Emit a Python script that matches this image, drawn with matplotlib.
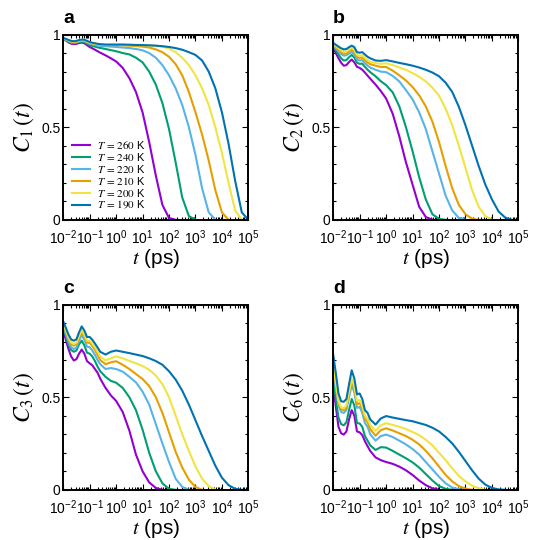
import numpy as np
import matplotlib.pyplot as plt
from matplotlib.ticker import LogLocator, FixedLocator, MultipleLocator, FuncFormatter

plt.rcParams['font.family'] = ['Liberation Sans', 'DejaVu Sans']
plt.rcParams['mathtext.fontset'] = 'stix'

# time grid (log10 of t in ps)
log_t = [-2.0, -1.9, -1.8, -1.7, -1.6, -1.5, -1.4, -1.3, -1.2, -1.1, -1.0, -0.9, -0.8, -0.7, -0.6,
         -0.4, -0.2, 0.0, 0.25, 0.5, 0.75, 1.0, 1.25, 1.5, 1.75, 2.0, 2.25, 2.5, 2.75, 3.0,
         3.25, 3.5, 3.75, 4.0, 4.25, 4.5, 4.75, 5.0]

temps = [260, 240, 220, 210, 200, 190]
colors = ['#9400D3', '#009E73', '#56B4E9', '#E69F00', '#F0E442', '#0072B2']

# panel a: C1(t)
c1_260 = [0.976, 0.968, 0.958, 0.951, 0.948, 0.950, 0.954, 0.957, 0.953, 0.943, 0.933, 0.926, 0.918, 0.910, 0.902, 0.888, 0.872,
          0.855, 0.820, 0.765, 0.690, 0.580, 0.420, 0.240, 0.080, 0.010, 0.0]
c1_240 = [0.977, 0.970, 0.962, 0.956, 0.953, 0.955, 0.959, 0.962, 0.959, 0.951, 0.944, 0.939, 0.935, 0.931, 0.928, 0.922, 0.916,
          0.910, 0.900, 0.893, 0.875, 0.850, 0.800, 0.730, 0.630, 0.490, 0.310, 0.120, 0.020, 0.0]
c1_220 = [0.978, 0.972, 0.965, 0.959, 0.957, 0.959, 0.963, 0.966, 0.964, 0.957, 0.951, 0.947, 0.944, 0.941, 0.939, 0.937, 0.935,
          0.933, 0.930, 0.927, 0.922, 0.915, 0.900, 0.875, 0.835, 0.780, 0.710, 0.620, 0.500, 0.350, 0.170, 0.040, 0.0]
c1_210 = [0.979, 0.973, 0.967, 0.961, 0.959, 0.961, 0.965, 0.968, 0.967, 0.961, 0.955, 0.951, 0.948, 0.946, 0.944, 0.943, 0.943,
          0.943, 0.942, 0.940, 0.938, 0.935, 0.930, 0.920, 0.905, 0.880, 0.840, 0.780, 0.690, 0.580, 0.460, 0.320, 0.160, 0.040, 0.0]
c1_200 = [0.980, 0.975, 0.969, 0.963, 0.961, 0.963, 0.967, 0.970, 0.969, 0.963, 0.957, 0.953, 0.950, 0.948, 0.946, 0.945, 0.945,
          0.945, 0.945, 0.944, 0.943, 0.942, 0.941, 0.940, 0.935, 0.925, 0.905, 0.875, 0.835, 0.780, 0.710, 0.620, 0.500, 0.360,
          0.200, 0.050, 0.0]
c1_190 = [0.982, 0.977, 0.971, 0.966, 0.964, 0.966, 0.970, 0.973, 0.972, 0.966, 0.960, 0.956, 0.953, 0.950, 0.948, 0.946, 0.946,
          0.946, 0.946, 0.945, 0.944, 0.943, 0.942, 0.940, 0.937, 0.933, 0.927, 0.918, 0.905, 0.890, 0.860, 0.800, 0.710, 0.580,
          0.410, 0.210, 0.040, 0.0]

# panel b: C2(t)
c2_260 = [0.928, 0.900, 0.872, 0.848, 0.832, 0.835, 0.852, 0.865, 0.850, 0.826, 0.820, 0.810, 0.795, 0.778, 0.762, 0.730, 0.695,
          0.655, 0.572, 0.450, 0.310, 0.190, 0.070, 0.015, 0.0]
c2_240 = [0.937, 0.915, 0.893, 0.872, 0.860, 0.862, 0.878, 0.890, 0.876, 0.848, 0.842, 0.843, 0.826, 0.810, 0.797, 0.775, 0.748,
          0.727, 0.688, 0.612, 0.500, 0.370, 0.230, 0.110, 0.030, 0.005, 0.0]
c2_220 = [0.940, 0.925, 0.910, 0.895, 0.886, 0.888, 0.898, 0.905, 0.893, 0.865, 0.860, 0.862, 0.846, 0.832, 0.822, 0.810, 0.800,
          0.797, 0.777, 0.747, 0.700, 0.650, 0.580, 0.490, 0.370, 0.250, 0.130, 0.050, 0.010, 0.0]
c2_210 = [0.945, 0.932, 0.918, 0.905, 0.896, 0.898, 0.910, 0.918, 0.906, 0.878, 0.874, 0.876, 0.862, 0.849, 0.840, 0.832, 0.825,
          0.825, 0.805, 0.780, 0.752, 0.717, 0.672, 0.612, 0.530, 0.420, 0.290, 0.170, 0.080, 0.030, 0.005, 0.0]
c2_200 = [0.950, 0.938, 0.926, 0.914, 0.906, 0.908, 0.920, 0.928, 0.918, 0.890, 0.886, 0.888, 0.874, 0.862, 0.853, 0.846, 0.842,
          0.845, 0.835, 0.822, 0.810, 0.792, 0.772, 0.747, 0.713, 0.670, 0.600, 0.510, 0.400, 0.280, 0.160, 0.070, 0.020, 0.0]
c2_190 = [0.955, 0.945, 0.935, 0.926, 0.920, 0.922, 0.932, 0.940, 0.932, 0.905, 0.902, 0.905, 0.892, 0.880, 0.872, 0.860, 0.858,
          0.862, 0.855, 0.847, 0.840, 0.832, 0.822, 0.810, 0.795, 0.775, 0.740, 0.690, 0.610, 0.510, 0.400, 0.290, 0.190, 0.110,
          0.045, 0.012, 0.0]

# panel c: C3(t)
c3_260 = [0.860, 0.810, 0.760, 0.720, 0.698, 0.705, 0.735, 0.757, 0.735, 0.695, 0.683, 0.672, 0.652, 0.632, 0.600, 0.550, 0.510,
          0.480, 0.420, 0.320, 0.190, 0.100, 0.040, 0.010, 0.0]
c3_240 = [0.875, 0.830, 0.785, 0.755, 0.745, 0.752, 0.785, 0.805, 0.780, 0.740, 0.735, 0.720, 0.695, 0.665, 0.640, 0.610, 0.588,
          0.578, 0.550, 0.500, 0.430, 0.325, 0.200, 0.100, 0.035, 0.005, 0.0]
c3_220 = [0.885, 0.843, 0.800, 0.770, 0.760, 0.767, 0.805, 0.835, 0.810, 0.773, 0.770, 0.752, 0.728, 0.700, 0.678, 0.652, 0.657,
          0.652, 0.638, 0.610, 0.580, 0.530, 0.460, 0.355, 0.250, 0.150, 0.060, 0.015, 0.0]
c3_210 = [0.895, 0.855, 0.815, 0.786, 0.778, 0.785, 0.822, 0.853, 0.830, 0.795, 0.793, 0.777, 0.755, 0.728, 0.700, 0.678, 0.688,
          0.694, 0.675, 0.652, 0.625, 0.598, 0.560, 0.500, 0.415, 0.310, 0.205, 0.120, 0.055, 0.015, 0.0]
c3_200 = [0.900, 0.862, 0.823, 0.795, 0.787, 0.794, 0.832, 0.863, 0.840, 0.805, 0.805, 0.790, 0.770, 0.745, 0.720, 0.698, 0.710,
          0.720, 0.710, 0.696, 0.683, 0.668, 0.648, 0.617, 0.570, 0.500, 0.400, 0.300, 0.210, 0.125, 0.060, 0.020, 0.0]
c3_190 = [0.910, 0.875, 0.838, 0.812, 0.805, 0.812, 0.850, 0.882, 0.860, 0.825, 0.825, 0.810, 0.790, 0.768, 0.745, 0.730, 0.745,
          0.752, 0.745, 0.738, 0.730, 0.722, 0.710, 0.695, 0.675, 0.640, 0.595, 0.535, 0.460, 0.375, 0.290, 0.210, 0.130, 0.065,
          0.025, 0.005, 0.0]

# panel d: C6(t)
c6_260 = [0.567, 0.450, 0.340, 0.305, 0.298, 0.315, 0.380, 0.430, 0.400, 0.315, 0.310, 0.295, 0.262, 0.235, 0.210, 0.175, 0.160,
          0.150, 0.140, 0.125, 0.105, 0.080, 0.050, 0.025, 0.008, 0.0]
c6_240 = [0.595, 0.490, 0.390, 0.355, 0.348, 0.365, 0.430, 0.490, 0.455, 0.360, 0.358, 0.340, 0.290, 0.265, 0.240, 0.215, 0.230,
          0.228, 0.210, 0.190, 0.170, 0.148, 0.120, 0.085, 0.050, 0.020, 0.005, 0.0]
c6_220 = [0.640, 0.550, 0.455, 0.420, 0.415, 0.430, 0.500, 0.565, 0.525, 0.442, 0.447, 0.415, 0.360, 0.340, 0.300, 0.265, 0.290,
          0.298, 0.285, 0.265, 0.245, 0.220, 0.190, 0.150, 0.110, 0.070, 0.035, 0.012, 0.003, 0.0]
c6_210 = [0.665, 0.570, 0.470, 0.435, 0.430, 0.445, 0.520, 0.585, 0.545, 0.462, 0.468, 0.438, 0.382, 0.365, 0.328, 0.292, 0.322,
          0.332, 0.320, 0.305, 0.290, 0.270, 0.245, 0.210, 0.170, 0.125, 0.080, 0.045, 0.020, 0.006, 0.0]
c6_200 = [0.675, 0.580, 0.480, 0.445, 0.440, 0.455, 0.530, 0.600, 0.560, 0.480, 0.485, 0.455, 0.400, 0.385, 0.350, 0.318, 0.348,
          0.360, 0.350, 0.340, 0.328, 0.312, 0.295, 0.270, 0.240, 0.200, 0.160, 0.115, 0.075, 0.045, 0.022, 0.008, 0.0]
c6_190 = [0.730, 0.630, 0.520, 0.478, 0.475, 0.490, 0.570, 0.645, 0.600, 0.515, 0.520, 0.490, 0.430, 0.415, 0.380, 0.352, 0.385,
          0.398, 0.390, 0.383, 0.376, 0.370, 0.360, 0.350, 0.335, 0.315, 0.285, 0.250, 0.205, 0.155, 0.105, 0.060, 0.028, 0.010,
          0.002, 0.0]

panels = [
    ('a', 1, [c1_260, c1_240, c1_220, c1_210, c1_200, c1_190]),
    ('b', 2, [c2_260, c2_240, c2_220, c2_210, c2_200, c2_190]),
    ('c', 3, [c3_260, c3_240, c3_220, c3_210, c3_200, c3_190]),
    ('d', 6, [c6_260, c6_240, c6_220, c6_210, c6_200, c6_190]),
]
boxes = [[0.117, 0.593, 0.343, 0.343], [0.617, 0.593, 0.343, 0.343],
         [0.117, 0.093, 0.343, 0.343], [0.617, 0.093, 0.343, 0.343]]

t = 10.0 ** np.array(log_t)

fig = plt.figure(figsize=(5.4, 5.4), dpi=100)
for (letter, l, curves), box in zip(panels, boxes):
    ax = fig.add_axes(box)
    for T, col, c in zip(temps, colors, curves):
        ax.plot(t[:len(c)], c, color=col, lw=1.5, label=r'$T\,=\,%d$ K' % T)
    ax.set_xscale('log')
    ax.set_xlim(1e-2, 1e5)
    ax.set_ylim(0, 1)
    ax.xaxis.set_major_locator(LogLocator(base=10, numticks=20))
    ax.xaxis.set_minor_locator(LogLocator(base=10, subs=np.arange(2, 10), numticks=20))
    ax.yaxis.set_major_locator(FixedLocator([0, 0.5, 1]))
    ax.yaxis.set_minor_locator(MultipleLocator(0.1))
    ax.yaxis.set_major_formatter(FuncFormatter(lambda v, p: '%g' % v))
    ax.tick_params(which='both', direction='in', top=True, right=True, labelsize=10, width=0.8)
    ax.tick_params(which='major', length=4)
    ax.tick_params(axis='x', which='major', pad=6)
    ax.tick_params(axis='y', which='major', pad=2)
    ax.tick_params(which='minor', length=2)
    for s in ax.spines.values():
        s.set_linewidth(1.4)
    ax.set_xlabel(r'$t$ (ps)', fontsize=15, labelpad=0)
    ax.set_ylabel(r'$C_{%d}\,(t)$' % l, fontsize=17, labelpad=4)
    ax.text(0.0, 1.065, letter, transform=ax.transAxes, fontsize=14,
            fontweight='bold', va='baseline', ha='left')
    if letter == 'a':
        ax.legend(loc='lower left', bbox_to_anchor=(0.0, 0.0), frameon=False, fontsize=8,
                  handlelength=1.7, labelspacing=0.0, handletextpad=0.6, borderaxespad=0.35)

fig.savefig('out.png', dpi=100)
